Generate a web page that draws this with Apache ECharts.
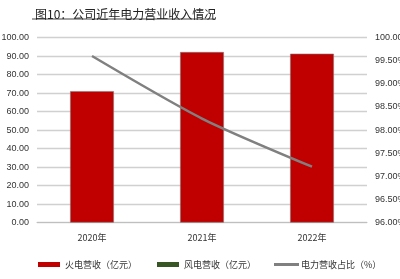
<!DOCTYPE html>
<html><head><meta charset="utf-8">
<script src="https://cdn.jsdelivr.net/npm/echarts@6/dist/echarts.min.js"></script>
<style>html,body{margin:0;padding:0;background:#fff}#c{width:400px;height:279px}</style>
</head><body><div id="c"></div>
<script>
const categories = ['2020年', '2021年', '2022年'];
const thermalRevenue = [71.1, 92.2, 91.3];
const windRevenue = [null, null, null];
const powerShare = [99.60, 98.25, 97.21];
const leftTicks = ['0.00','10.00','20.00','30.00','40.00','50.00','60.00','70.00','80.00','90.00','100.00'];
const seriesNames = ['火电营收（亿元）', '风电营收（亿元）', '电力营收占比（%）'];
const titleText = '图10：公司近年电力营业收入情况';

const cjk = '"Noto Sans CJK SC", sans-serif';
const num = '"Liberation Sans", Arial, sans-serif';
const chart = echarts.init(document.getElementById('c'), null, {renderer: 'canvas'});
chart.setOption({
  animation: false,
  backgroundColor: '#fff',
  title: {
    text: titleText, left: 30, top: 3,
    textStyle: {fontFamily: cjk, fontSize: 12, fontWeight: 'normal', color: '#222'}
  },
  graphic: [{type: 'line', shape: {x1: 32, y1: 19, x2: 215, y2: 19}, style: {stroke: '#444', lineWidth: 1}}],
  legend: [
    {data: [seriesNames[0]], left: 33, top: 255, itemWidth: 22, itemHeight: 5, itemGap: 4, icon: 'rect',
     itemStyle: {borderWidth: 0},
     textStyle: {fontFamily: cjk, fontSize: 9, color: '#333'}},
    {data: [seriesNames[1]], left: 152, top: 255, itemWidth: 22, itemHeight: 5, icon: 'rect',
     itemStyle: {borderWidth: 0},
     textStyle: {fontFamily: cjk, fontSize: 9, color: '#333'}},
    {data: [{name: seriesNames[2], icon: 'rect', itemStyle: {color: '#808080', borderWidth: 0}}], left: 269, top: 255, itemWidth: 25, itemHeight: 3,
     textStyle: {fontFamily: cjk, fontSize: 9, color: '#333', padding: [0,0,0,-3]}}
  ],
  grid: {left: 37, right: 33, top: 37.5, bottom: 56.3, containLabel: false, outerBoundsMode: 'none'},
  xAxis: {
    type: 'category', data: categories,
    axisTick: {show: false},
    axisLine: {show: true, lineStyle: {color: '#BFBFBF', width: 1}},
    axisLabel: {fontFamily: cjk, fontSize: 9, color: '#333', margin: 10}
  },
  yAxis: [
    {type: 'value', min: 0, max: 100, interval: 10,
     axisLine: {show: false}, axisTick: {show: false},
     splitLine: {lineStyle: {color: '#D0D0D0', width: 1.3}},
     axisLabel: {fontFamily: num, fontSize: 9, color: '#333', margin: 8,
       formatter: v => leftTicks[Math.round(v / 10)]}},
    {type: 'value', min: 96, max: 100, interval: 0.5,
     axisLine: {show: false}, axisTick: {show: false}, splitLine: {show: false},
     axisLabel: {fontFamily: num, fontSize: 9, color: '#333', margin: 8,
       formatter: v => v.toFixed(2) + '%'}}
  ],
  series: [
    {name: seriesNames[0], type: 'bar', data: thermalRevenue, barWidth: 44, barGap: '-100%',
     itemStyle: {color: '#C00000', borderColor: 'rgba(120,120,120,0.7)', borderWidth: 0.8}},
    {name: seriesNames[1], type: 'bar', data: windRevenue, barWidth: 44,
     itemStyle: {color: '#375623'}},
    {name: seriesNames[2], type: 'line', yAxisIndex: 1, data: powerShare, smooth: 0.25,
     symbol: 'none', lineStyle: {color: '#808080', width: 2.5}, itemStyle: {color: '#808080'}}
  ]
});
</script></body></html>
